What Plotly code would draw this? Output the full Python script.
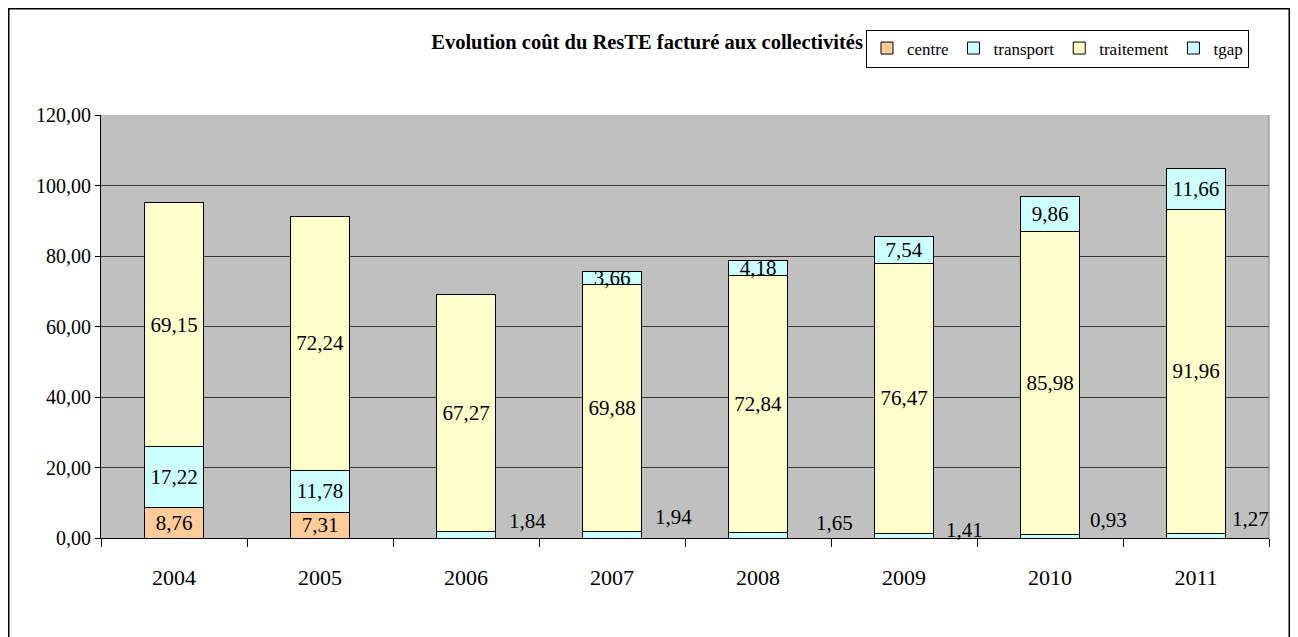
import plotly.graph_objects as go

years = ["2004", "2005", "2006", "2007", "2008", "2009", "2010", "2011"]
centre = [8.76, 7.31, None, None, None, None, None, None]
transport = [17.22, 11.78, 1.84, 1.94, 1.65, 1.41, 0.93, 1.27]
traitement = [69.15, 72.24, 67.27, 69.88, 72.84, 76.47, 85.98, 91.96]
tgap = [None, None, None, 3.66, 4.18, 7.54, 9.86, 11.66]

# pixel offsets of the moved "transport" labels (layout only)
label_dx = [0, 0, 61, 61, 76, 60, 58, 54]
label_dy = [0, 0, 11, 14, 9, 3, 15, 15]

FONT = "Liberation Serif"
W, H = 1282, 629
ML, MR, MT, MB = 93, 21, 107, 99
PW, PH = W - ML - MR, H - MT - MB

def fmt(v):
    return "" if v is None else f"{v:.2f}".replace(".", ",")

fig = go.Figure()

def add(name, vals, color, texts):
    fig.add_trace(go.Bar(
        x=years, y=vals, name=name,
        marker=dict(color=color, line=dict(color="black", width=1)),
        text=texts, textposition="inside", insidetextanchor="middle",
        constraintext="none", textangle=0,
        textfont=dict(family=FONT, size=21, color="black"),
        width=0.4,
    ))

add("centre", centre, "#FFCC99", [fmt(v) for v in centre])
add("transport", transport, "#CCFFFF", [fmt(v) if v > 5 else "" for v in transport])
add("traitement", traitement, "#FFFFCC", [fmt(v) for v in traitement])
add("tgap", tgap, "#CCFFFF", [fmt(v) for v in tgap])

annotations = []
for i, v in enumerate(transport):
    if v <= 5:
        annotations.append(dict(
            x=i, y=v, xref="x", yref="y", text=fmt(v), showarrow=False,
            xshift=label_dx[i], yshift=label_dy[i],
            font=dict(family=FONT, size=21, color="black"),
        ))

fig.update_layout(
    barmode="stack",
    width=W, height=H,
    margin=dict(l=ML, r=MR, t=MT, b=MB, autoexpand=False),
    paper_bgcolor="white",
    plot_bgcolor="#C0C0C0",
    separators=", ",
    font=dict(family=FONT, color="black"),
    title=dict(
        text="<b>Evolution coût du ResTE facturé aux collectivités</b>",
        x=0.4985, xanchor="center", y=0.946, yanchor="middle",
        font=dict(family=FONT, size=20.5, color="black"),
    ),
    legend=dict(
        orientation="h", traceorder="normal",
        x=(1241 - ML) / PW, xanchor="right", y=(H - MB - 40.5) / PH, yanchor="middle",
        bordercolor="black", borderwidth=1, bgcolor="white",
        font=dict(family=FONT, size=17, color="black"),
        itemwidth=30, tracegroupgap=0,
    ),
    annotations=annotations,
    showlegend=True,
)

fig.update_xaxes(
    type="category", range=[-0.5, 7.5], autorange=False,
    showgrid=False, showline=True, linecolor="black", linewidth=1,
    ticks="outside", tickson="boundaries", ticklen=8, tickcolor="black",
    tickfont=dict(family=FONT, size=22, color="black"), ticklabelstandoff=20,
    tickangle=0,
)
fig.update_yaxes(
    range=[0, 120], autorange=False, dtick=20, tickformat=".2f",
    showgrid=True, gridcolor="#383838", gridwidth=1,
    showline=True, linecolor="black", linewidth=1,
    ticks="outside", ticklen=5, tickcolor="black",
    tickfont=dict(family=FONT, size=20, color="black"),
    zeroline=False,
)

# right border of plot area (gray) and outer chart frame
fig.add_shape(type="line", xref="paper", yref="paper", x0=1, x1=1, y0=0, y1=1,
              line=dict(color="#808080", width=1))
fig.add_shape(type="rect", xref="paper", yref="paper",
              x0=(0.75 - ML) / PW, x1=(W - 0.75 - ML) / PW,
              y0=(-MB - 20) / PH, y1=(PH + MT - 0.75) / PH,
              line=dict(color="black", width=1.5), layer="below")

fig.write_html("out.html")
